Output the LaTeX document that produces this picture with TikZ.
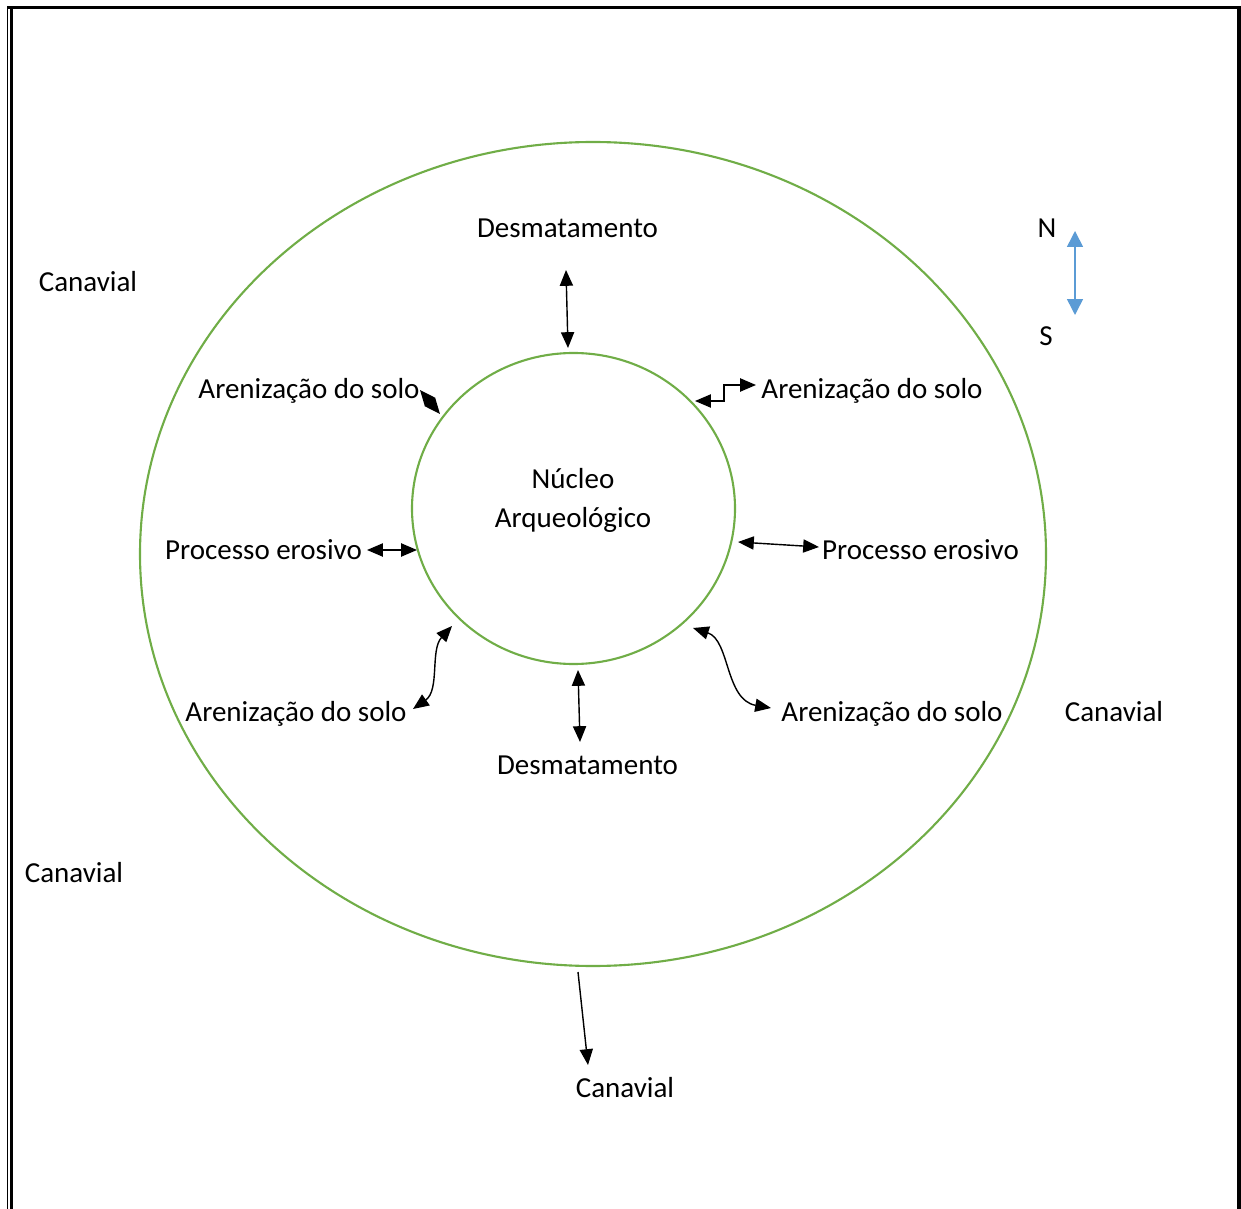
\documentclass[tikz,border=0pt]{standalone}
\usepackage{fontspec}
\setmainfont{Carlito}
\usetikzlibrary{arrows.meta, shapes.geometric}

\definecolor{ringgreen}{RGB}{112,173,71}
\definecolor{compassblue}{RGB}{91,155,213}

\begin{document}
\begin{tikzpicture}[
  x=0.02cm, y=-0.02cm,
  lbl/.style={font=\fontsize{16.5}{22}\selectfont, inner sep=0pt, text height=10.6pt, text depth=0pt},
  ring/.style={draw=ringgreen, line width=1.2pt},
  arrow/.style={{Triangle[length=9pt, width=7.5pt]}-{Triangle[length=9pt, width=7.5pt]}, line width=0.8pt},
  onearrow/.style={-{Triangle[length=9pt, width=7.5pt]}, line width=0.8pt},
  compass/.style={{Triangle[length=9pt, width=9pt]}-{Triangle[length=9pt, width=9pt]}, draw=compassblue, fill=compassblue, line width=0.9pt}
]
  \useasboundingbox (0,0) rectangle (1241,1209);

  % frame
  \draw[line width=1pt] (7.5,6) -- (7.5,1209);
  \draw[line width=1.5pt] (11.5,9) -- (11.5,1209);
  \draw[line width=2.2pt] (7,7.5) -- (1241,7.5);
  \draw[line width=2.2pt] (1239,6) -- (1239,1209);

  % rings
  \draw[ring] (593,554) ellipse [x radius=453, y radius=412];
  \draw[ring] (573.5,508.5) ellipse [x radius=161.5, y radius=155.5];

  % labels
  \node[font=\fontsize{16.5}{22}\selectfont, align=center, inner sep=0pt, anchor=base] (nucleo) at (573,527) {Núcleo\\Arqueológico};
  \node[lbl] (desmN) at (567.5,228) {Desmatamento};
  \node[lbl] (desmS) at (587.5,765) {Desmatamento};
  \node[lbl] (arenNW) at (309,389) {Arenização do solo};
  \node[lbl] (arenNE) at (872,389) {Arenização do solo};
  \node[lbl] (arenSW) at (296,712) {Arenização do solo};
  \node[lbl] (arenSE) at (892,712) {Arenização do solo};
  \node[lbl] (procW) at (263.5,550) {Processo erosivo};
  \node[lbl] (procE) at (920.5,550) {Processo erosivo};
  \node[lbl] (canNW) at (88,282) {Canavial};
  \node[lbl] (canE) at (1114,712) {Canavial};
  \node[lbl] (canSW) at (74,873) {Canavial};
  \node[lbl] (canS) at (625,1088) {Canavial};
  \node[lbl] (north) at (1047,228) {N};
  \node[lbl] (south) at (1046,336) {S};

  % arrow ends
  \coordinate (n1) at (566,270);  \coordinate (n2) at (568,348);
  \coordinate (s1) at (578,670);  \coordinate (s2) at (580,742);
  \coordinate (w1) at (367,550);  \coordinate (w2) at (417,550);
  \coordinate (e1) at (738,542);  \coordinate (e2) at (819,547);
  \coordinate (nw1) at (420,390); \coordinate (nw2) at (440,414);
  \coordinate (ne1) at (695,401); \coordinate (ne2) at (756,385);
  \coordinate (sw1) at (452,626); \coordinate (sw2) at (413,709);
  \coordinate (se1) at (693,628); \coordinate (se2) at (771,708);
  \coordinate (c1) at (578,972);  \coordinate (c2) at (588,1065);
  \coordinate (cn) at (1075,231); \coordinate (cs) at (1075,315);

  % arrows
  \draw[arrow] (n1) -- (n2);
  \draw[arrow] (s1) -- (s2);
  \draw[arrow] (w1) -- (w2);
  \draw[arrow] (e1) -- (e2);
  \draw[arrow] (nw1) -- (nw2);
  \draw[arrow] (ne1) -| (724,393) |- (ne2);
  \draw[arrow] (sw1) .. controls (430,650) and (440,690) .. (sw2);
  \draw[arrow] (se1) .. controls (730,640) and (725,700) .. (se2);
  \draw[onearrow] (c1) -- (c2);
  \draw[compass] (cn) -- (cs);
\end{tikzpicture}
\end{document}
